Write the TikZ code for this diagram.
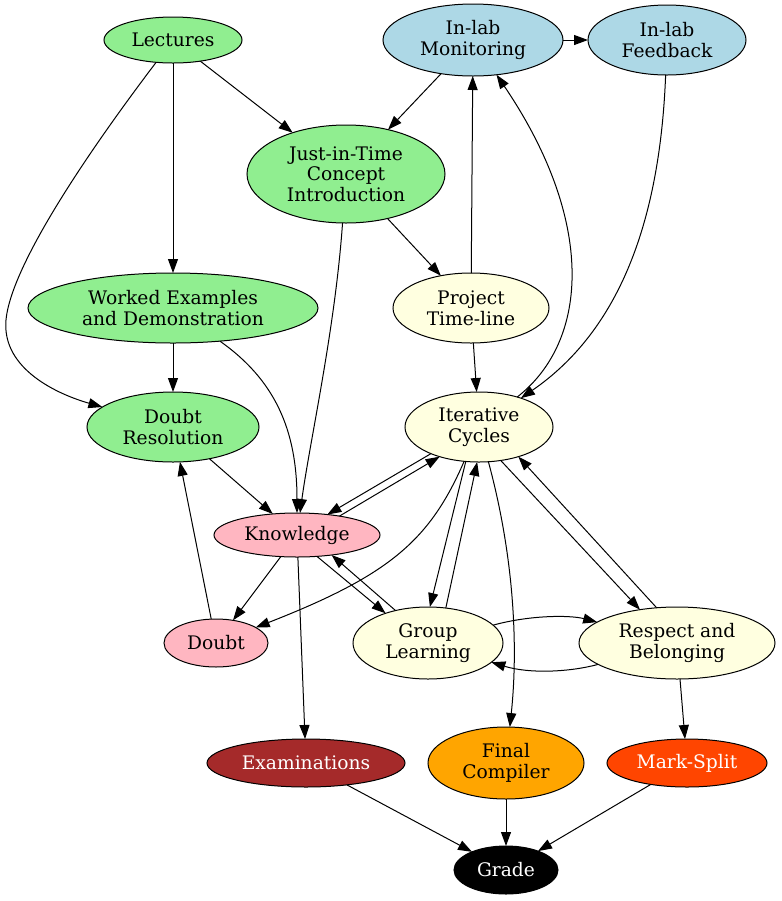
\documentclass[tikz,border=0pt]{standalone}
\usepackage{fontspec}
\setmainfont{DejaVu Serif}
\usetikzlibrary{shapes.geometric,arrows.meta}
\definecolor{lgreen}{RGB}{144,238,144}
\definecolor{lblue}{RGB}{173,216,230}
\definecolor{lyellow}{RGB}{255,255,224}
\definecolor{lpink}{RGB}{255,182,193}
\definecolor{gbrown}{RGB}{165,42,42}
\definecolor{gorange}{RGB}{255,165,0}
\definecolor{gorangered}{RGB}{255,69,0}
\tikzset{
  nd/.style={ellipse, draw, line width=0.75pt, inner sep=0pt, outer sep=0pt, align=center,
    font=\fontsize{14pt}{15.4pt}\selectfont},
  sz/.style 2 args={minimum width=#1*1.5pt, minimum height=#2*1.5pt},
  ed/.style={line width=0.75pt, -{Triangle[length=10.5pt,width=7.5pt]}}
}
\begin{document}
\begin{tikzpicture}[x=0.75pt,y=-0.75pt]
\useasboundingbox (0,0) rectangle (782,901);
% nodes
\node[nd, fill=lgreen, sz={69}{23}] (lec) at (173,40) {Lectures};
\node[nd, fill=lblue, sz={90}{36}] (im) at (473,40) {In-lab\\Monitoring};
\node[nd, fill=lblue, sz={79}{35}] (if) at (667,40) {In-lab\\Feedback};
\node[nd, fill=lgreen, sz={99}{49}] (jit) at (346,174) {Just-in-Time\\Concept\\Introduction};
\node[nd, fill=lgreen, sz={145}{35}] (we) at (173,308) {Worked Examples\\and Demonstration};
\node[nd, fill=lyellow, sz={78}{35}] (pt) at (471,308) {Project\\Time-line};
\node[nd, fill=lgreen, sz={86}{35}] (dr) at (173,427) {Doubt\\Resolution};
\node[nd, fill=lyellow, sz={74}{35}] (ic) at (479,427) {Iterative\\Cycles};
\node[nd, fill=lpink, sz={83}{22}] (kn) at (297,535) {Knowledge};
\node[nd, fill=lpink, sz={52}{24}] (db) at (216,643) {Doubt};
\node[nd, fill=lyellow, sz={75}{36}] (gl) at (428,643) {Group\\Learning};
\node[nd, fill=lyellow, sz={98}{36}] (rb) at (677,643) {Respect and\\Belonging};
\node[nd, fill=gbrown, text=white, sz={99}{24}] (ex) at (306,763) {Examinations};
\node[nd, fill=gorange, sz={78}{36}] (fc) at (506,763) {Final\\Compiler};
\node[nd, fill=gorangered, text=white, sz={80}{24}] (ms) at (687,763) {Mark-Split};
\node[nd, fill=black, text=white, sz={52}{24}] (gr) at (506,870) {Grade};
% edges
\draw[ed] (lec) -- (jit);
\draw[ed] (lec) -- (we);
\draw[ed] (lec) .. controls (120,110) and (12,255) .. (6,320) .. controls (1.5,370) and (60,395) .. (dr);
\draw[ed] (im) -- (if);
\draw[ed] (im) -- (jit);
\draw[ed] (jit) -- (pt);
\draw[ed] (jit) .. controls (335,330) and (310,440) .. (kn);
\draw[ed] (pt) -- (im);
\draw[ed] (pt) -- (ic);
\draw[ed] (if) .. controls (660,220) and (620,330) .. (ic);
\draw[ed] (ic) .. controls (590,340) and (595,220) .. (im);
\draw[ed] (we) -- (dr);
\draw[ed] (we) .. controls (275,380) and (297,430) .. (kn);
\draw[ed] (dr) -- (kn);
\draw[ed] (ic.209) -- (kn.34);
\draw[ed] (kn.24) -- (ic.217);
\draw[ed] (ic) .. controls (430,540) and (390,575) .. (db);
\draw[ed] (ic.249) -- (gl.87);
\draw[ed] (gl.63) -- (ic.267);
\draw[ed] (ic) .. controls (515,560) and (518,650) .. (fc);
\draw[ed] (ic.303) -- (rb.138);
\draw[ed] (rb.120) -- (ic.323);
\draw[ed] (kn) -- (db);
\draw[ed] (db) -- (dr);
\draw[ed] (kn.313) -- (gl.145);
\draw[ed] (gl.135) -- (kn.330);
\draw[ed] (kn) -- (ex);
\draw[ed] (gl) .. controls (530,615) and (570,615) .. (rb);
\draw[ed] (rb) .. controls (570,672) and (530,674) .. (gl);
\draw[ed] (rb) -- (ms);
\draw[ed] (ex) -- (gr);
\draw[ed] (fc) -- (gr);
\draw[ed] (ms) -- (gr);
\end{tikzpicture}
\end{document}
